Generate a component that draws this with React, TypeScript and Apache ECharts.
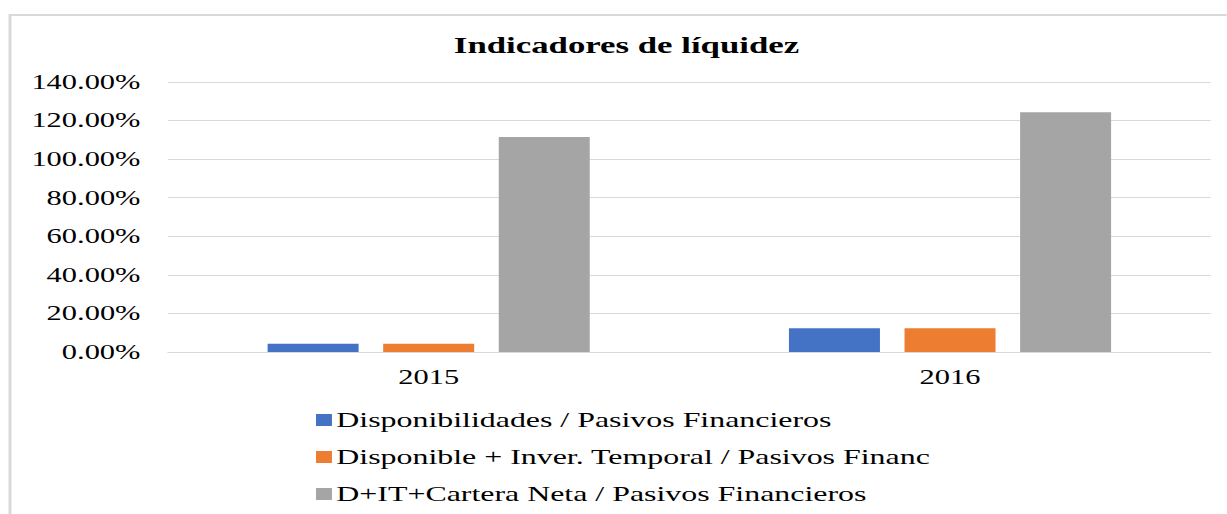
import React, { useEffect, useRef } from "react";
import * as echarts from "echarts";

const categories = ["2015", "2016"];
const seriesNames = [
  "Disponibilidades / Pasivos Financieros",
  "Disponible + Inver. Temporal / Pasivos Financ",
  "D+IT+Cartera Neta / Pasivos Financieros",
];
const disponibilidades = [4.3, 12.3];
const disponibleInver = [4.3, 12.3];
const carteraNeta = [111.5, 124.3];
const colors = ["#4472C4", "#ED7D31", "#A5A5A5"];
const yTicks = [0, 20, 40, 60, 80, 100, 120, 140];

const FONT = "'Liberation Serif', 'Times New Roman', serif";
// The reference is horizontally stretched; draw in narrower space and stretch.
const SX = 1.45;
const W = 1227 / SX;

export default function App() {
  const ref = useRef<HTMLDivElement>(null);
  useEffect(() => {
    document.body.style.margin = "0";
    const chart = echarts.init(ref.current!, undefined, { renderer: "svg" });
    const data = [disponibilidades, disponibleInver, carteraNeta];
    chart.setOption({
      animation: false,
      backgroundColor: "#ffffff",
      graphic: [
        {
          type: "rect",
          shape: { x: 10 / SX, y: 15, width: W + 20, height: 520 },
          style: { fill: "none", stroke: "#d9d9d9", lineWidth: 2 },
          silent: true,
        },
        {
          type: "text",
          x: 626.5 / SX,
          y: 45,
          style: {
            text: "Indicadores de líquidez",
            font: `bold 24px ${FONT}`,
            fill: "#000",
            textAlign: "center",
            textVerticalAlign: "middle",
          },
        },
      ],
      grid: { left: 168 / SX, right: 16 / SX, top: 82, bottom: 162, containLabel: false },
      legend: {
        orient: "vertical",
        left: 316 / SX,
        top: 409,
        padding: 0,
        itemWidth: 11,
        itemHeight: 12,
        itemGap: 15,
        icon: "rect",
        textStyle: { fontFamily: FONT, fontSize: 22, lineHeight: 22, color: "#000", padding: [0, 0, 0, -2] },
        data: seriesNames,
      },
      xAxis: {
        type: "category",
        data: categories,
        axisLine: { show: true, lineStyle: { color: "#d9d9d9", width: 1 } },
        axisTick: { show: false },
        axisLabel: { fontFamily: FONT, fontSize: 21, color: "#000", margin: 15 },
      },
      yAxis: {
        type: "value",
        min: 0,
        max: yTicks[yTicks.length - 1],
        interval: 20,
        axisLine: { show: false },
        axisTick: { show: false },
        splitLine: { lineStyle: { color: "#d9d9d9", width: 1 } },
        axisLabel: {
          fontFamily: FONT,
          fontSize: 21,
          color: "#000",
          margin: 19,
          formatter: (v: number) => v.toFixed(2) + "%",
        },
      },
      series: seriesNames.map((name, i) => ({
        name,
        type: "bar",
        data: data[i],
        barWidth: 91 / SX,
        barGap: "27%",
        itemStyle: { color: colors[i] },
      })),
    });
    return () => chart.dispose();
  }, []);
  return (
    <div style={{ width: 1227, height: 514, overflow: "hidden" }}>
      <div
        ref={ref}
        style={{ width: W, height: 514, transform: `scaleX(${SX})`, transformOrigin: "0 0" }}
      />
    </div>
  );
}
